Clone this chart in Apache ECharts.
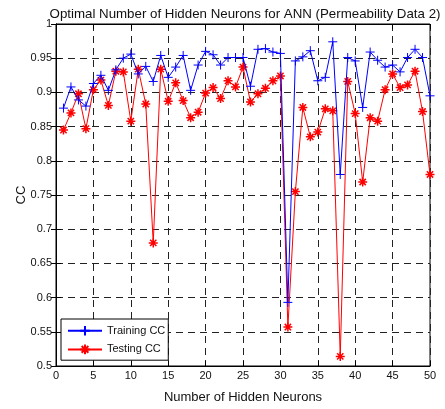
<!DOCTYPE html>
<html>
<head>
<meta charset="UTF-8">
<title>Optimal Number of Hidden Neurons</title>
<script src="https://cdn.jsdelivr.net/npm/echarts@6/dist/echarts.min.js"></script>
<style>
  html, body { margin: 0; padding: 0; background: #fff; }
  #chartmain { width: 445px; height: 409px; }
</style>
</head>
<body>
<div id="chartmain"></div>
<script>
// number of hidden neurons (x)
var neurons = [1,2,3,4,5,6,7,8,9,10,11,12,13,14,15,16,17,18,19,20,21,22,23,24,25,
               26,27,28,29,30,31,32,33,34,35,36,37,38,39,40,41,42,43,44,45,46,47,48,49,50];
// training CC (blue +)
var trainingCC = [0.877,0.908,0.889,0.880,0.913,0.925,0.903,0.933,0.950,0.956,
                  0.927,0.938,0.916,0.954,0.922,0.937,0.954,0.903,0.940,0.960,
                  0.955,0.940,0.951,0.951,0.951,0.909,0.963,0.964,0.959,0.957,
                  0.593,0.946,0.952,0.961,0.917,0.922,0.974,0.780,0.951,0.946,
                  0.878,0.959,0.947,0.937,0.940,0.930,0.951,0.963,0.951,0.895];
// testing CC (red *)
var testingCC = [0.845,0.870,0.898,0.847,0.904,0.918,0.881,0.931,0.930,0.858,
                 0.934,0.883,0.680,0.934,0.887,0.914,0.888,0.863,0.871,0.899,
                 0.907,0.891,0.917,0.908,0.937,0.886,0.898,0.906,0.917,0.924,
                 0.557,0.755,0.878,0.835,0.842,0.876,0.873,0.514,0.916,0.869,
                 0.769,0.863,0.858,0.904,0.927,0.907,0.911,0.931,0.872,0.780];
var seriesNames = ['Training CC', 'Testing CC'];

function pairs(xs, ys) {
    var out = [];
    for (var i = 0; i < xs.length; i++) out.push([xs[i], ys[i]]);
    return out;
}

var plusPath = 'path://M5,0V10M0,5H10';
var starPath = 'path://M5,0V10M0,5H10M1.5,1.5L8.5,8.5M8.5,1.5L1.5,8.5';
var txt = '#111';
var fontName = 'Liberation Sans, Arial, sans-serif';

var mychart = echarts.init(document.getElementById('chartmain'));
var myoption = {
    animation: false,
    backgroundColor: '#fff',
    title: {
        text: 'Optimal Number of Hidden Neurons for ANN (Permeability Data 2)',
        left: 240, top: 3, textAlign: 'center',
        textStyle: { fontSize: 13.3, fontWeight: 'normal', color: txt, fontFamily: fontName }
    },
    grid: { left: 56, right: 15, top: 24, bottom: 43, show: true, borderColor: '#000', borderWidth: 1 },
    legend: {
        data: seriesNames,
        orient: 'vertical',
        left: 61, top: 319,
        padding: [6, 3, 5, 6],
        itemGap: 7,
        itemWidth: 34, itemHeight: 12,
        backgroundColor: '#fff',
        borderColor: '#000', borderWidth: 1, borderRadius: 0,
        textStyle: { fontSize: 11, color: txt, fontFamily: fontName }
    },
    xAxis: [{
        type: 'value', min: 0, max: 50, interval: 5,
        name: 'Number of Hidden Neurons', nameLocation: 'middle', nameGap: 25,
        nameTextStyle: { fontSize: 13, color: txt, fontFamily: fontName },
        axisLine: { lineStyle: { color: '#000' } },
        axisTick: { inside: true, length: 5, lineStyle: { color: '#000' } },
        axisLabel: { fontSize: 11, color: txt, margin: 4, fontFamily: fontName },
        splitLine: { show: true, lineStyle: { color: '#222', type: [7, 5], width: 1 } }
    }, {
        type: 'value', min: 0, max: 50, interval: 5, position: 'top',
        axisLine: { lineStyle: { color: '#000' } },
        axisTick: { inside: true, length: 5, lineStyle: { color: '#000' } },
        axisLabel: { show: false }, splitLine: { show: false }
    }],
    yAxis: [{
        type: 'value', min: 0.5, max: 1, interval: 0.05,
        name: 'CC', nameLocation: 'middle', nameGap: 28, nameMoveOverlap: false,
        nameTextStyle: { fontSize: 13, color: txt, fontFamily: fontName },
        axisLine: { show: true, lineStyle: { color: '#000' } },
        axisTick: { show: true, inside: true, length: 5, lineStyle: { color: '#000' } },
        axisLabel: { fontSize: 11, color: txt, margin: 4, fontFamily: fontName },
        splitLine: { show: true, lineStyle: { color: '#222', type: [7, 5], width: 1 } }
    }, {
        type: 'value', min: 0.5, max: 1, interval: 0.05, position: 'right',
        axisLine: { show: true, lineStyle: { color: '#000' } },
        axisTick: { show: true, inside: true, length: 5, lineStyle: { color: '#000' } },
        axisLabel: { show: false }, splitLine: { show: false }
    }],
    series: [{
        name: seriesNames[0], type: 'line',
        data: pairs(neurons, trainingCC),
        symbol: plusPath, symbolSize: 9, showAllSymbol: true,
        lineStyle: { color: '#0000ff', width: 1 },
        itemStyle: { color: '#0000ff', borderColor: '#0000ff', borderWidth: 1 },
        z: 3
    }, {
        name: seriesNames[1], type: 'line',
        data: pairs(neurons, testingCC),
        symbol: starPath, symbolSize: 9, showAllSymbol: true,
        lineStyle: { color: '#ff0000', width: 1 },
        itemStyle: { color: '#ff0000', borderColor: '#ff0000', borderWidth: 1.5 },
        z: 2
    }]
};
mychart.setOption(myoption);
</script>
</body>
</html>
